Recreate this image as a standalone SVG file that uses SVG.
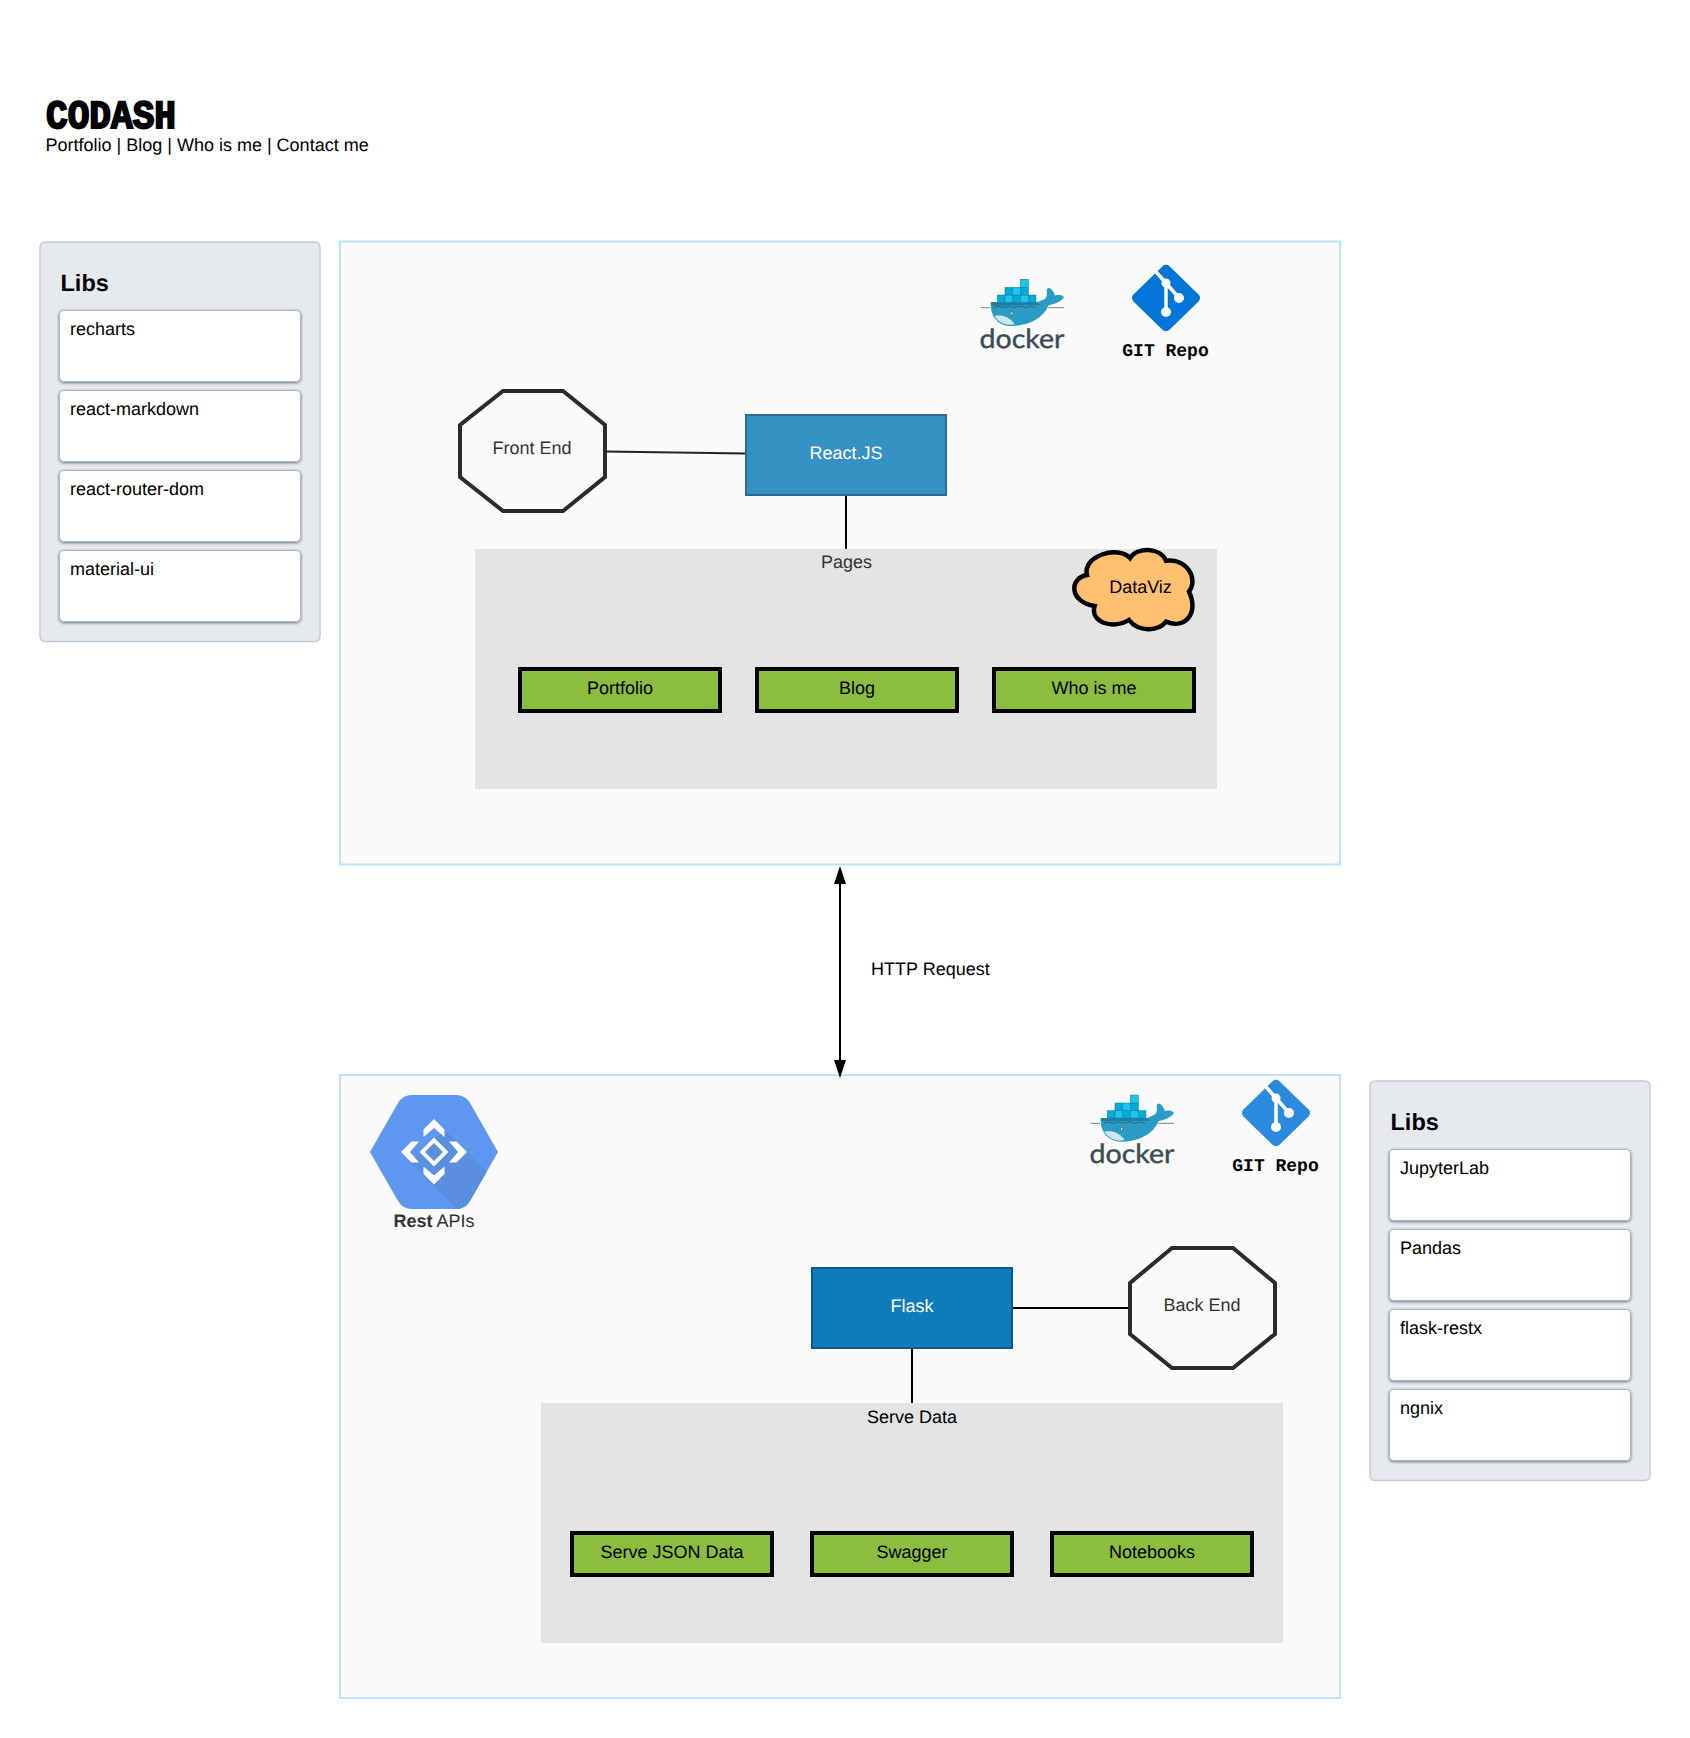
<svg xmlns="http://www.w3.org/2000/svg" xmlns:xlink="http://www.w3.org/1999/xlink" width="1690" height="1738" viewBox="0 0 1690 1738">
<style>
text{font-family:"Liberation Sans",Arial,sans-serif;font-size:18px;fill:#000;text-rendering:geometricPrecision}
.m{text-anchor:middle}
.d{fill:#333}
.w{fill:#fff}
.container{fill:#fafafa;stroke:#bfe3f8;stroke-width:2}
.area{fill:#e4e4e4}
.page{fill:#8bbe3f;stroke:#000;stroke-width:4}
.oct{fill:#fafafa;stroke:#2b2b2b;stroke-width:4;stroke-linejoin:miter}
.panel{fill:#e6e9ee;stroke:#c3ccd6;stroke-width:1.5}
.card{fill:#fff;stroke:#aeb3bb;stroke-width:1;filter:url(#sh)}
.libs{font-weight:700;font-size:23.5px}
.link{fill:none;stroke:#000;stroke-width:2}
.repo{font-family:"Liberation Mono",monospace;font-weight:700}
.b1{fill:#00acd3;stroke:#0b7f9b;stroke-width:1.5}
.b2{fill:#20c2ef;stroke:#0b7f9b;stroke-width:1.5}
.dk{font-family:Lato,"Open Sans",sans-serif;font-size:26.500px;fill:#394d54;stroke:#394d54;stroke-width:.4}
</style>
<defs>
<filter id="sh" x="-5%" y="-10%" width="110%" height="125%"><feDropShadow dx="0" dy="1" stdDeviation="1.400" flood-color="#4a5260" flood-opacity=".8"/></filter>
<marker id="ah" viewBox="0 0 18 12" refX="14" refY="6" markerWidth="18" markerHeight="12" markerUnits="userSpaceOnUse" orient="auto-start-reverse"><path d="M0,0L18,6L0,12Z" fill="#000"/></marker>
<g id="dockerLogo">
<g transform="scale(.33333)">
<path d="M152,187L292,187L306,180C318,178 323,168 320,150C322,142 330,142 336,150C342,156 344,162 344,167C354,162 368,164 372,172C364,184 346,192 326,196C308,240 258,258 215,258C175,258 150,230 152,187Z" fill="#2a9bc4"/>
<path d="M152,187L292,187L300,195L156,197Z" style="fill:#1f7fa3"/>
<path d="M163,228C186,224 208,230 224,253C200,258 178,250 163,228Z" fill="#cfe6ec"/>
<circle cx="215" cy="220" r="4" fill="#fff" stroke="#394d54" stroke-width="2"/>
<path d="M122,203L150,203M160,203Q175,194 190,203Q205,194 220,203Q240,194 255,203Q270,194 285,203M325,203L372,203" fill="none" stroke="#394d54" stroke-width="2"/>
<rect class="b1" x="172" y="165" width="23" height="22"/><rect class="b2" x="195" y="165" width="23" height="22"/><rect class="b1" x="218" y="165" width="23" height="22"/><rect class="b2" x="241" y="165" width="24" height="22"/><rect class="b1" x="265" y="165" width="23" height="22"/>
<rect class="b1" x="195" y="142" width="23" height="23"/><rect class="b2" x="218" y="142" width="23" height="23"/><rect class="b1" x="241" y="142" width="24" height="23"/>
<rect class="b2" x="241" y="118" width="24" height="24"/>
</g>
</g>
<g id="gitLogo">
<rect x="-26" y="-26" width="52" height="52" rx="5" fill="currentColor" transform="scale(.98,.955) rotate(45)" />
<path d="M-10,-26L0,-15L0,14M0,-15L13,0" fill="none" stroke="#fff" stroke-width="3.500"/>
<circle cx="0" cy="-15" r="4.500" fill="#fff"/><circle cx="0" cy="14" r="5" fill="#fff"/><circle cx="13" cy="0" r="5" fill="#fff"/>
</g>
<clipPath id="hex"><path d="M370,1152L398,1103Q403,1095 412,1095L456,1095Q465,1095 470,1103L498,1152L470,1201Q465,1209 456,1209L412,1209Q403,1209 398,1201Z"/></clipPath>
</defs>
<rect width="1690" height="1738" fill="#fff"/>

<g id="header">
<text x="46" y="128" textLength="130" lengthAdjust="spacingAndGlyphs" style="font-family:'Liberation Mono',monospace;font-weight:700;font-size:40px;stroke:#000;stroke-width:2">CODASH</text>
<text x="45.500" y="151">Portfolio | Blog | Who is me | Contact me</text>
</g>

<g id="libs-left">
<rect class="panel" x="40" y="242" width="280" height="399.500" rx="5"/>
<text class="libs" x="60.500" y="291">Libs</text>
<g id="lib-recharts"><rect class="card" x="59.500" y="310.500" width="241" height="71" rx="4"/><text x="70" y="335">recharts</text></g>
<g id="lib-react-markdown"><rect class="card" x="59.500" y="390.500" width="241" height="71" rx="4"/><text x="70" y="415">react-markdown</text></g>
<g id="lib-react-router-dom"><rect class="card" x="59.500" y="470.500" width="241" height="71" rx="4"/><text x="70" y="495">react-router-dom</text></g>
<g id="lib-material-ui"><rect class="card" x="59.500" y="550.500" width="241" height="71" rx="4"/><text x="70" y="575">material-ui</text></g>
</g>

<g id="frontend-container"><rect class="container" x="340" y="241.500" width="1000" height="623"/></g>
<g id="pages-area"><rect class="area" x="475" y="549" width="742" height="240"/><text class="m d" x="846.500" y="568">Pages</text></g>

<g id="backend-container"><rect class="container" x="340" y="1075" width="1000" height="623"/></g>
<g id="data-area"><rect class="area" x="541" y="1403" width="742" height="240"/><text class="m" x="912" y="1422.500">Serve Data</text></g>

<g id="connectors">
<path class="link" d="M605,451.500L746,453.500" style="stroke:#222"/>
<path class="link" d="M846,496L846,549"/>
<path class="link" d="M1012,1308L1130,1308"/>
<path class="link" d="M912,1348L912,1403"/>
<path class="link" d="M840,870L840,1074" marker-start="url(#ah)" marker-end="url(#ah)"/>
</g>
<text id="http-label" x="871" y="975">HTTP Request</text>

<g id="docker-front"><use xlink:href="#dockerLogo" href="#dockerLogo" transform="translate(940,240)"/><text class="dk" x="979.500" y="347.500" textLength="85" lengthAdjust="spacingAndGlyphs">docker</text></g>
<g id="git-front"><use xlink:href="#gitLogo" href="#gitLogo" transform="translate(1166,298)" style="color:#0275d8"/><text class="repo m" x="1165.500" y="355.500">GIT Repo</text></g>

<g id="front-end"><polygon class="oct" points="503,391 563,391 605,425 605,477 563,511 503,511 460,477 460,425"/><text class="m d" x="532" y="453.500">Front End</text></g>
<g id="react"><rect x="746" y="415" width="200" height="80" fill="#3590c3" stroke="#2c6a8f" stroke-width="2"/><text class="m w" x="846" y="459">React.JS</text></g>

<g id="dataviz"><path d="M1087,575C1082,556 1118,545 1130,558C1137,547 1160,547 1166,560.700C1186,558 1199,578 1189,591.700C1199,612 1186,630 1166,621.700C1158,632 1138,632 1129,620C1112,630 1090,622 1094.600,606C1069,602 1069,578 1087,575Z" fill="#ffc06f" stroke="#000" stroke-width="4.500"/><text class="m" x="1140.500" y="593">DataViz</text></g>

<g id="page-portfolio"><rect class="page" x="520" y="669" width="200" height="42"/><text class="m" x="620" y="694">Portfolio</text></g>
<g id="page-blog"><rect class="page" x="757" y="669" width="200" height="42"/><text class="m" x="857" y="694">Blog</text></g>
<g id="page-whoisme"><rect class="page" x="994" y="669" width="200" height="42"/><text class="m" x="1094" y="694">Who is me</text></g>

<g id="rest-apis">
<path d="M370,1152L398,1103Q403,1095 412,1095L456,1095Q465,1095 470,1103L498,1152L470,1201Q465,1209 456,1209L412,1209Q403,1209 398,1201Z" fill="#5e97f0"/>
<path d="M444,1129L540,1225L480,1232L410,1162Z" fill="#5a8fe0" clip-path="url(#hex)"/>
<path fill="#fff" d="M434,1119L444.500,1129.500L444.500,1137L434,1128L423.500,1137L423.500,1129.500Z"/>
<path fill="#fff" d="M434,1184.500L444.500,1174L444.500,1166.500L434,1175.500L423.500,1166.500L423.500,1174Z"/>
<path fill="#fff" d="M401,1152L411.500,1141.500L419,1141.500L410,1152L419,1162.500L411.500,1162.500Z"/>
<path fill="#fff" d="M467,1152L456.500,1141.500L449,1141.500L458,1152L449,1162.500L456.500,1162.500Z"/>
<path fill="#fff" fill-rule="evenodd" d="M434,1137.500L448.500,1152L434,1166.500L419.500,1152ZM434,1143L425,1152L434,1161L443,1152Z"/>
<text class="m d" x="434" y="1227"><tspan font-weight="700">Rest</tspan> APIs</text>
</g>

<g id="docker-back"><use xlink:href="#dockerLogo" href="#dockerLogo" transform="translate(1050,1055.700)"/><text class="dk" x="1089.500" y="1163" textLength="85" lengthAdjust="spacingAndGlyphs">docker</text></g>
<g id="git-back"><use xlink:href="#gitLogo" href="#gitLogo" transform="translate(1276,1113)" style="color:#2b8ade"/><text class="repo m" x="1275.500" y="1170.500">GIT Repo</text></g>

<g id="flask"><rect x="812" y="1268" width="200" height="80" fill="#0e7cba" stroke="#0b5c8c" stroke-width="2"/><text class="m w" x="912" y="1312">Flask</text></g>
<g id="back-end"><polygon class="oct" points="1172,1248 1233,1248 1275,1283 1275,1334 1233,1368 1172,1368 1130,1334 1130,1283"/><text class="m d" x="1202" y="1311">Back End</text></g>

<g id="page-json"><rect class="page" x="572" y="1533" width="200" height="42"/><text class="m" x="672" y="1557.500">Serve JSON Data</text></g>
<g id="page-swagger"><rect class="page" x="812" y="1533" width="200" height="42"/><text class="m" x="912" y="1557.500">Swagger</text></g>
<g id="page-notebooks"><rect class="page" x="1052" y="1533" width="200" height="42"/><text class="m" x="1152" y="1557.500">Notebooks</text></g>

<g id="libs-right">
<rect class="panel" x="1370" y="1081" width="280" height="399.500" rx="5"/>
<text class="libs" x="1390.500" y="1129.500">Libs</text>
<g id="lib-jupyterlab"><rect class="card" x="1389.500" y="1149.500" width="241" height="71" rx="4"/><text x="1400" y="1174">JupyterLab</text></g>
<g id="lib-pandas"><rect class="card" x="1389.500" y="1229.500" width="241" height="71" rx="4"/><text x="1400" y="1254">Pandas</text></g>
<g id="lib-flask-restx"><rect class="card" x="1389.500" y="1309.500" width="241" height="71" rx="4"/><text x="1400" y="1334">flask-restx</text></g>
<g id="lib-ngnix"><rect class="card" x="1389.500" y="1389.500" width="241" height="71" rx="4"/><text x="1400" y="1414">ngnix</text></g>
</g>
</svg>
